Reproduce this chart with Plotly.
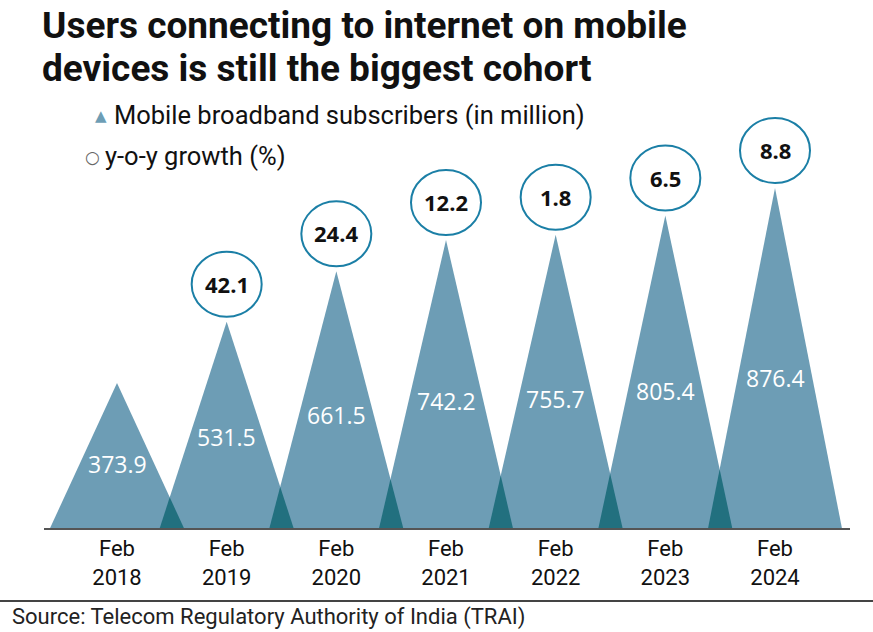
import plotly.graph_objects as go

# ---------------- data ----------------
years = ["2018", "2019", "2020", "2021", "2022", "2023", "2024"]
tick_labels = ["Feb<br>" + y for y in years]
subscribers = [373.9, 531.5, 661.5, 742.2, 755.7, 805.4, 876.4]
growth = [None, 42.1, 24.4, 12.2, 1.8, 6.5, 8.8]

# ---------------- styling ----------------
MAIN = "#6d9db5"
DARK = "#22707f"
RING = "#1b7fa6"
HALF = 0.61  # triangle half-width in category units

W, H = 873, 632
L, R, T, B = 44, 23, 100, 104
PLOT_W = W - L - R
PLOT_H = H - T - B


def px(x):
    return (x - L) / PLOT_W


def py(y):
    return (H - B - y) / PLOT_H


fig = go.Figure()

# triangles
for i, v in enumerate(subscribers):
    fig.add_trace(go.Scatter(
        x=[i - HALF, i, i + HALF, i - HALF], y=[0, v, 0, 0],
        mode="lines", fill="toself", fillcolor=MAIN,
        line=dict(width=0), hoverinfo="skip", showlegend=False))

# overlaps between neighbouring triangles
for i in range(len(subscribers) - 1):
    v1, v2 = subscribers[i], subscribers[i + 1]
    a = i + HALF
    b = i + 1 - HALF
    if a > b:
        xi = (v1 * a + v2 * b) / (v1 + v2)
        yi = v1 * (a - xi) / HALF
        fig.add_trace(go.Scatter(
            x=[b, xi, a, b], y=[0, yi, 0, 0],
            mode="lines", fill="toself", fillcolor=DARK,
            line=dict(width=0), hoverinfo="skip", showlegend=False))

annotations = []
shapes = []

# value labels inside triangles
for i, v in enumerate(subscribers):
    annotations.append(dict(
        x=i, y=v * 0.44, xref="x", yref="y", text=f"{v:.1f}",
        showarrow=False, font=dict(family="Open Sans", size=23, color="white")))

# growth rings
for i, (v, g) in enumerate(zip(subscribers, growth)):
    if g is None:
        continue
    shapes.append(dict(
        type="circle", xref="x", yref="y", xsizemode="pixel", ysizemode="pixel",
        xanchor=i, yanchor=v, x0=-35, x1=35, y0=5, y1=70,
        line=dict(color=RING, width=2), fillcolor="white", layer="above"))
    annotations.append(dict(
        x=i, y=v, xref="x", yref="y", yshift=38, text=f"{g:.1f}",
        showarrow=False, yanchor="middle",
        font=dict(family="Open Sans", size=22, color="#111", weight="bold")))

# title (two lines)
for text, yc in [("Users connecting to internet on mobile", 26),
                 ("devices is still the biggest cohort", 68)]:
    annotations.append(dict(
        x=px(40), y=py(yc), xref="paper", yref="paper", xanchor="left", yanchor="middle",
        align="left", showarrow=False, text=f"<b>{text}</b>",
        font=dict(family="Roboto", size=37, color="#111")))

# legend
annotations += [
    dict(x=px(101), y=py(116), xref="paper", yref="paper", text="▲", showarrow=False,
         xanchor="center", yanchor="middle", font=dict(family="DejaVu Sans", size=15, color=MAIN)),
    dict(x=px(112), y=py(115), xref="paper", yref="paper",
         text="Mobile broadband subscribers (in million)", showarrow=False,
         xanchor="left", yanchor="middle", font=dict(family="Roboto", size=25.5, color="#111")),
    dict(x=px(92), y=py(157), xref="paper", yref="paper", text="○", showarrow=False,
         xanchor="center", yanchor="middle", font=dict(family="DejaVu Sans", size=17, color="#666")),
    dict(x=px(103), y=py(156), xref="paper", yref="paper",
         text="y-o-y growth (%)", showarrow=False,
         xanchor="left", yanchor="middle", font=dict(family="Roboto", size=25.5, color="#111")),
]

# source
shapes.append(dict(type="line", xref="paper", yref="paper",
                   x0=px(0), x1=px(W), y0=py(601), y1=py(601),
                   line=dict(color="#444", width=2)))
annotations.append(dict(
    x=px(10), y=py(617), xref="paper", yref="paper", xanchor="left", yanchor="middle",
    text="Source: Telecom Regulatory Authority of India (TRAI)", showarrow=False,
    font=dict(family="Roboto", size=22, color="#222")))

fig.update_layout(
    width=W, height=H,
    margin=dict(l=L, r=R, t=T, b=B),
    paper_bgcolor="white", plot_bgcolor="white",
    showlegend=False,
    xaxis=dict(range=[-(117 - L) / 109.67, 6 + (850 - 775) / 109.67],
               tickmode="array", tickvals=list(range(len(years))), ticktext=tick_labels,
               showgrid=False, zeroline=False, showline=True, linecolor="#555",
               linewidth=2, ticks="", fixedrange=True,
               tickfont=dict(family="Roboto", size=22, color="#111")),
    yaxis=dict(range=[0, PLOT_H / 0.388], visible=False, fixedrange=True),
    annotations=annotations, shapes=shapes,
)

fig.write_html("out.html")
